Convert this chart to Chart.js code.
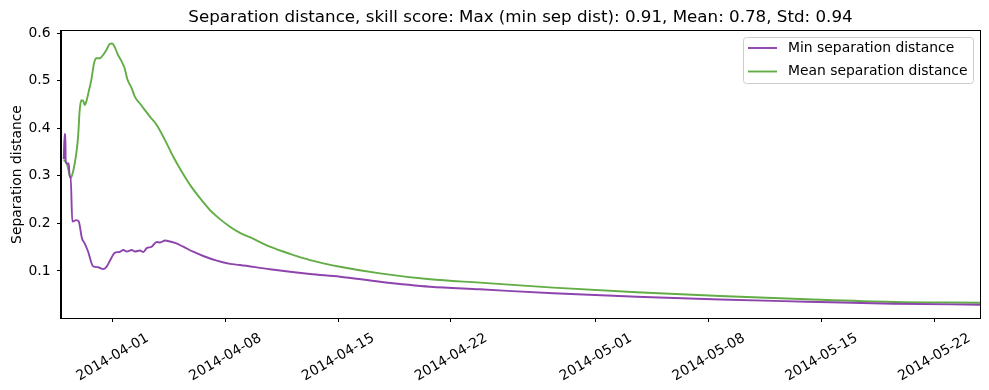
<!DOCTYPE html>
<html><head><meta charset="utf-8">
<script src="https://cdn.jsdelivr.net/npm/chart.js@4.4.0/dist/chart.umd.min.js"></script>
<style>html,body{margin:0;padding:0;background:#fff}#wrap{width:989px;height:390px}</style>
</head><body><div id="wrap"><canvas id="c" width="989" height="390"></canvas></div>
<script>
const titleText = "Separation distance, skill score: Max (min sep dist): 0.91, Mean: 0.78, Std: 0.94";
const seriesLabels = ["Min separation distance", "Mean separation distance"];
const yAxisLabel = "Separation distance";
const xTickLabels = ["2014-04-01","2014-04-08","2014-04-15","2014-04-22","2014-05-01","2014-05-08","2014-05-15","2014-05-22"];
const yTickValues = [0.1, 0.2, 0.3, 0.4, 0.5, 0.6];
// x values: days since 2014-04-01 00:00
const minDays = [-3.04,-2.98,-2.94,-2.92,-2.84,-2.73,-2.67,-2.61,-2.51,-2.26,-2.11,-1.91,-1.74,-1.53,-1.22,-0.91,-0.60,-0.40,-0.09,0.12,0.43,0.66,0.87,1.18,1.38,1.69,1.90,2.11,2.42,2.73,2.94,3.25,3.56,3.87,4.38,5.00,5.62,6.46,7.28,7.90,9.76,12.25,14.11,16.59,19.70,22.80,27.35,32.53,37.70,43.08,48.45,53.84];
const minValues = [0.335,0.388,0.388,0.330,0.326,0.326,0.298,0.298,0.204,0.207,0.204,0.169,0.158,0.141,0.110,0.108,0.104,0.108,0.127,0.138,0.140,0.144,0.141,0.144,0.141,0.143,0.140,0.148,0.151,0.161,0.160,0.164,0.162,0.159,0.151,0.1405,0.1315,0.1217,0.1150,0.1126,0.1036,0.0937,0.0880,0.0775,0.0670,0.0615,0.0531,0.0460,0.0400,0.0355,0.0313,0.0292];
const meanDays = [-3.04,-2.84,-2.70,-2.61,-2.46,-2.36,-2.26,-2.15,-2.05,-1.95,-1.84,-1.74,-1.64,-1.49,-1.33,-1.16,-1.02,-0.81,-0.60,-0.40,-0.19,-0.04,0.12,0.33,0.53,0.74,0.91,1.18,1.38,1.69,2.00,2.32,2.73,3.25,3.76,4.28,4.80,5.42,6.04,6.66,7.28,7.90,8.52,9.76,11.00,12.25,14.11,16.59,19.70,22.80,27.35,32.53,37.70,43.08,48.45,53.84];
const meanValues = [0.333,0.325,0.305,0.295,0.309,0.326,0.347,0.382,0.438,0.459,0.458,0.449,0.456,0.477,0.501,0.536,0.547,0.547,0.554,0.564,0.577,0.578,0.571,0.554,0.542,0.526,0.503,0.484,0.466,0.452,0.438,0.424,0.407,0.375,0.340,0.309,0.281,0.253,0.228,0.209,0.193,0.180,0.171,0.151,0.136,0.123,0.109,0.095,0.0826,0.0755,0.065,0.0553,0.0475,0.0405,0.0349,0.0334];

const colors = ["#8e44ad", "#62ad45"];
const FONT = '"DejaVu Sans", sans-serif';
const base = Date.UTC(2014, 3, 1);
const tickDays = xTickLabels.map(s => { const p = s.split('-').map(Number); return (Date.UTC(p[0], p[1]-1, p[2]) - base) / 86400000; });

const deco = {
  id: 'deco',
  afterDraw(chart) {
    const ctx = chart.ctx, a = chart.chartArea;
    ctx.save();
    ctx.strokeStyle = '#000'; ctx.lineWidth = 1;
    ctx.strokeRect(Math.round(a.left) - 0.5, Math.round(a.top) - 0.5, Math.round(a.right - a.left) + 1, Math.round(a.bottom - a.top) + 1);
    ctx.fillStyle = '#000';
    ctx.font = '16.7px ' + FONT;
    ctx.textAlign = 'center'; ctx.textBaseline = 'alphabetic';
    ctx.fillText(titleText, (a.left + a.right) / 2, 22);
    const bx = 743.5, by = 37.5, bw = 230, bh = 46, r = 3;
    ctx.beginPath();
    ctx.moveTo(bx + r, by); ctx.lineTo(bx + bw - r, by); ctx.arcTo(bx + bw, by, bx + bw, by + r, r);
    ctx.lineTo(bx + bw, by + bh - r); ctx.arcTo(bx + bw, by + bh, bx + bw - r, by + bh, r);
    ctx.lineTo(bx + r, by + bh); ctx.arcTo(bx, by + bh, bx, by + bh - r, r);
    ctx.lineTo(bx, by + r); ctx.arcTo(bx, by, bx + r, by, r); ctx.closePath();
    ctx.fillStyle = 'rgba(255,255,255,0.8)'; ctx.fill();
    ctx.strokeStyle = '#cccccc'; ctx.lineWidth = 1; ctx.stroke();
    ctx.font = '13.9px ' + FONT; ctx.textAlign = 'left'; ctx.textBaseline = 'middle';
    chart.data.datasets.forEach((ds, i) => {
      const y = 48 + i * 23.5;
      ctx.strokeStyle = ds.borderColor; ctx.lineWidth = 1.9;
      ctx.beginPath(); ctx.moveTo(748, y); ctx.lineTo(777, y); ctx.stroke();
      ctx.fillStyle = '#000';
      ctx.fillText(ds.label, 788, y);
    });
    ctx.restore();
  }
};

new Chart(document.getElementById('c'), {
  type: 'line',
  data: {
    datasets: [
      { label: seriesLabels[0], data: minDays.map((d, i) => ({x: d, y: minValues[i]})), borderColor: colors[0], backgroundColor: colors[0], borderWidth: 1.9, pointRadius: 0, cubicInterpolationMode: 'monotone', fill: false },
      { label: seriesLabels[1], data: meanDays.map((d, i) => ({x: d, y: meanValues[i]})), borderColor: colors[1], backgroundColor: colors[1], borderWidth: 1.9, pointRadius: 0, cubicInterpolationMode: 'monotone', fill: false }
    ]
  },
  options: {
    responsive: false, animation: false, devicePixelRatio: 1,
    layout: { padding: { left: 0, right: 9, top: 31, bottom: 0 } },
    plugins: { legend: { display: false }, title: { display: false }, tooltip: { enabled: false } },
    scales: {
      x: {
        type: 'linear', min: -3.21, max: 53.84,
        afterFit: s => { s.height = 72; },
        afterBuildTicks: s => { s.ticks = tickDays.map(v => ({ value: v })); },
        ticks: { autoSkip: false, minRotation: 30, maxRotation: 30, labelOffset: 35, padding: 8, color: '#000', font: { family: FONT, size: 13.9 }, callback: (v, i) => xTickLabels[i] },
        grid: { drawOnChartArea: false, drawTicks: true, tickLength: 4, color: '#000', lineWidth: 1 },
        border: { display: true, color: '#000', width: 1 }
      },
      y: {
        type: 'linear', min: 0.0012, max: 0.6044,
        afterFit: s => { s.width = 61; },
        afterBuildTicks: s => { s.ticks = yTickValues.map(v => ({ value: v })); },
        ticks: { padding: 6.5, color: '#000', font: { family: FONT, size: 13.9 }, callback: v => v.toFixed(1) },
        grid: { drawOnChartArea: false, drawTicks: true, tickLength: 4, color: '#000', lineWidth: 1 },
        border: { display: true, color: '#000', width: 1 },
        title: { display: true, text: yAxisLabel, color: '#000', font: { family: FONT, size: 13.9 }, padding: { top: 9, bottom: 0 } }
      }
    }
  },
  plugins: [deco]
});
</script>
</body></html>
